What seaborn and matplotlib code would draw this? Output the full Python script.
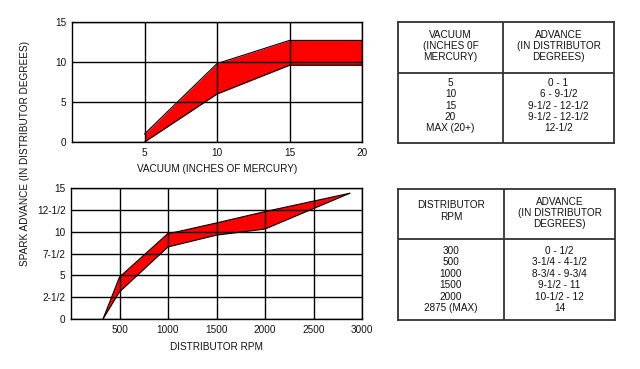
import numpy as np
import seaborn as sns
import matplotlib.pyplot as plt

# vacuum advance band (inches of mercury vs distributor degrees)
vac_x = [5, 10, 15, 20]
vac_upper = [1.0, 9.8, 12.7, 12.7]
vac_lower = [0.0, 6.0, 9.6, 9.6]
vac_ticks = [5, 10, 15, 20]
vac_yticks = [0, 5, 10, 15]

# centrifugal advance band (distributor rpm vs distributor degrees)
rpm_upper_x = [330, 500, 1000, 1100, 1500, 2000, 2875]
rpm_upper = [0.0, 4.8, 9.8, 10.0, 11.0, 12.3, 14.4]
rpm_lower_x = [330, 500, 1000, 1500, 2000, 2875]
rpm_lower = [0.0, 3.1, 8.25, 9.6, 10.3, 14.4]
rpm_ticks = [500, 1000, 1500, 2000, 2500, 3000]
rpm_yticks = [0, 2.5, 5, 7.5, 10, 12.5, 15]
rpm_ylabels = ["0", "2-1/2", "5", "7-1/2", "10", "12-1/2", "15"]

# tables
vac_head = ["VACUUM\n(INCHES 0F\nMERCURY)", "ADVANCE\n(IN DISTRIBUTOR\nDEGREES)"]
vac_rows = ["5", "10", "15", "20", "MAX (20+)"]
vac_adv = ["0 - 1", "6 - 9-1/2", "9-1/2 - 12-1/2", "9-1/2 - 12-1/2", "12-1/2"]
rpm_head = ["DISTRIBUTOR\nRPM", "ADVANCE\n(IN DISTRIBUTOR\nDEGREES)"]
rpm_rows = ["300", "500", "1000", "1500", "2000", "2875 (MAX)"]
rpm_adv = ["0 - 1/2", "3-1/4 - 4-1/2", "8-3/4 - 9-3/4", "9-1/2 - 11", "10-1/2 - 12", "14"]

sns.set_style("white", {"axes.edgecolor": "black"})
plt.rcParams["font.family"] = ["Liberation Sans", "DejaVu Sans"]
plt.rcParams["axes.axisbelow"] = False
FS = 7.2
TXT = "#111111"

W, H = 640, 369
fig = plt.figure(figsize=(W / 100, H / 100), dpi=100)


def px_axes(x0, y0, x1, y1):
    # axes from pixel box (top-left origin)
    return fig.add_axes([x0 / W, 1 - y1 / H, (x1 - x0) / W, (y1 - y0) / H])


def style_chart(ax):
    ax.grid(True, color="black", lw=1)
    for s in ax.spines.values():
        s.set_color("black")
        s.set_linewidth(1)
    ax.tick_params(length=0, pad=4, labelsize=FS, labelcolor=TXT)


# top chart
ax1 = px_axes(72, 22, 362, 142)
ax1.fill_between(vac_x, vac_lower, vac_upper, color="#ff0000", lw=0, zorder=1)
sns.lineplot(x=vac_x, y=vac_upper, ax=ax1, color="black", lw=0.8, zorder=1.2)
sns.lineplot(x=vac_x, y=vac_lower, ax=ax1, color="black", lw=0.8, zorder=1.2)
ax1.set_xlim(0, 20)
ax1.set_ylim(0, 15)
ax1.set_xticks(vac_ticks)
ax1.set_yticks(vac_yticks)
ax1.set_xlabel("VACUUM (INCHES OF MERCURY)", fontsize=FS, color=TXT, labelpad=5)
style_chart(ax1)

# bottom chart
ax2 = px_axes(71, 188, 362, 319)
poly_x = np.r_[rpm_upper_x, rpm_lower_x[::-1]]
poly_y = np.r_[rpm_upper, rpm_lower[::-1]]
ax2.fill(poly_x, poly_y, color="#ff0000", lw=0, zorder=1)
sns.lineplot(x=rpm_upper_x, y=rpm_upper, ax=ax2, color="black", lw=0.8, zorder=1.2)
sns.lineplot(x=rpm_lower_x, y=rpm_lower, ax=ax2, color="black", lw=0.8, zorder=1.2)
ax2.set_xlim(0, 3000)
ax2.set_ylim(0, 15)
ax2.set_xticks(rpm_ticks)
ax2.set_yticks(rpm_yticks)
ax2.set_yticklabels(rpm_ylabels)
ax2.set_xlabel("DISTRIBUTOR RPM", fontsize=FS, color=TXT, labelpad=5)
style_chart(ax2)

fig.text(25 / W, 1 - 154 / H, "SPARK ADVANCE (IN DISTRIBUTOR DEGREES)",
         rotation=90, ha="center", va="center", fontsize=FS, color=TXT)


def draw_table(box, split_x, split_y, head, col1, col2, head_y, row_y0, row_dy):
    x0, y0, x1, y1 = box
    ax = px_axes(x0, y0, x1, y1)
    ax.set_xlim(x0, x1)
    ax.set_ylim(y1, y0)
    ax.set_xticks([])
    ax.set_yticks([])
    for s in ax.spines.values():
        s.set_color("#333333")
        s.set_linewidth(1.3)
    ax.axvline(split_x, color="#333333", lw=1.3)
    ax.axhline(split_y, color="#333333", lw=1.3)
    c1 = (x0 + split_x) / 2
    c2 = (split_x + x1) / 2
    ax.text(c1, head_y[0], head[0], ha="center", va="center", fontsize=FS,
            color=TXT, linespacing=1.15)
    ax.text(c2, head_y[1], head[1], ha="center", va="center", fontsize=FS,
            color=TXT, linespacing=1.15)
    for i, (a, b) in enumerate(zip(col1, col2)):
        y = row_y0 + i * row_dy
        ax.text(c1, y, a, ha="center", va="center", fontsize=FS, color=TXT)
        ax.text(c2, y, b, ha="center", va="center", fontsize=FS, color=TXT)


draw_table((398, 22, 614, 143), 503, 73, vac_head, vac_rows, vac_adv,
           (46, 46), 83, 11.3)
draw_table((398, 189, 615, 320), 504, 239, rpm_head, rpm_rows, rpm_adv,
           (211, 213), 251, 11.4)

fig.savefig("out.png", dpi=100, facecolor="white")
